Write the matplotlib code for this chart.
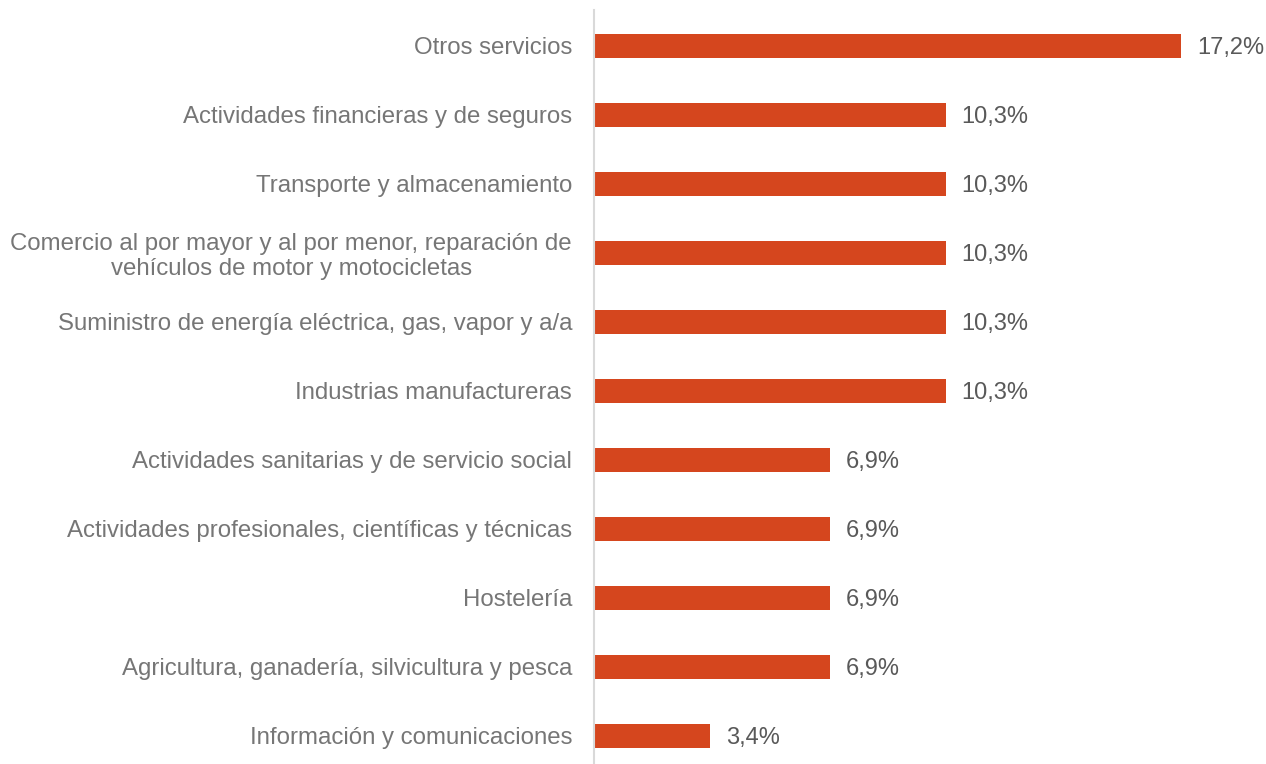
import matplotlib
matplotlib.use("Agg")
import matplotlib.pyplot as plt

categories = [
    "Otros servicios",
    "Actividades financieras y de seguros",
    "Transporte y almacenamiento",
    "Comercio al por mayor y al por menor, reparación de\nvehículos de motor y motocicletas",
    "Suministro de energía eléctrica, gas, vapor y a/a",
    "Industrias manufactureras",
    "Actividades sanitarias y de servicio social",
    "Actividades profesionales, científicas y técnicas",
    "Hostelería",
    "Agricultura, ganadería, silvicultura y pesca",
    "Información y comunicaciones",
]
values = [17.2, 10.3, 10.3, 10.3, 10.3, 10.3, 6.9, 6.9, 6.9, 6.9, 3.4]
value_labels = ["17,2%", "10,3%", "10,3%", "10,3%", "10,3%", "10,3%",
                "6,9%", "6,9%", "6,9%", "6,9%", "3,4%"]

plt.rcParams['font.family'] = ['Liberation Sans', 'DejaVu Sans']

fig = plt.figure(figsize=(12.66, 7.64), dpi=100)
ax = fig.add_axes([594/1266, 0.0, (1242.5-594)/1266, 754.2/764])

y = list(range(len(categories)))
bars = ax.barh(y, values, height=0.35, color="#D5461E")
ax.set_xlim(0, 19)
ax.set_ylim(10.41, -0.52)

ax.set_yticks(y)
ax.set_yticklabels(categories, fontsize=17.25, color="#767676",
                   multialignment="center", linespacing=1.15)
ax.tick_params(axis="y", length=0, pad=22 * 72 / 100)
ax.set_xticks([])

for s in ["top", "right", "bottom"]:
    ax.spines[s].set_visible(False)
ax.spines["left"].set_color("#D9D9D9")
ax.spines["left"].set_linewidth(1.5)

for b, lab in zip(bars, value_labels):
    ax.annotate(lab, xy=(b.get_width(), b.get_y() + b.get_height()/2),
                xytext=(16, -2), textcoords="offset pixels",
                va="center", ha="left", fontsize=17, color="#595959")

fig.savefig("out.png", dpi=100)
